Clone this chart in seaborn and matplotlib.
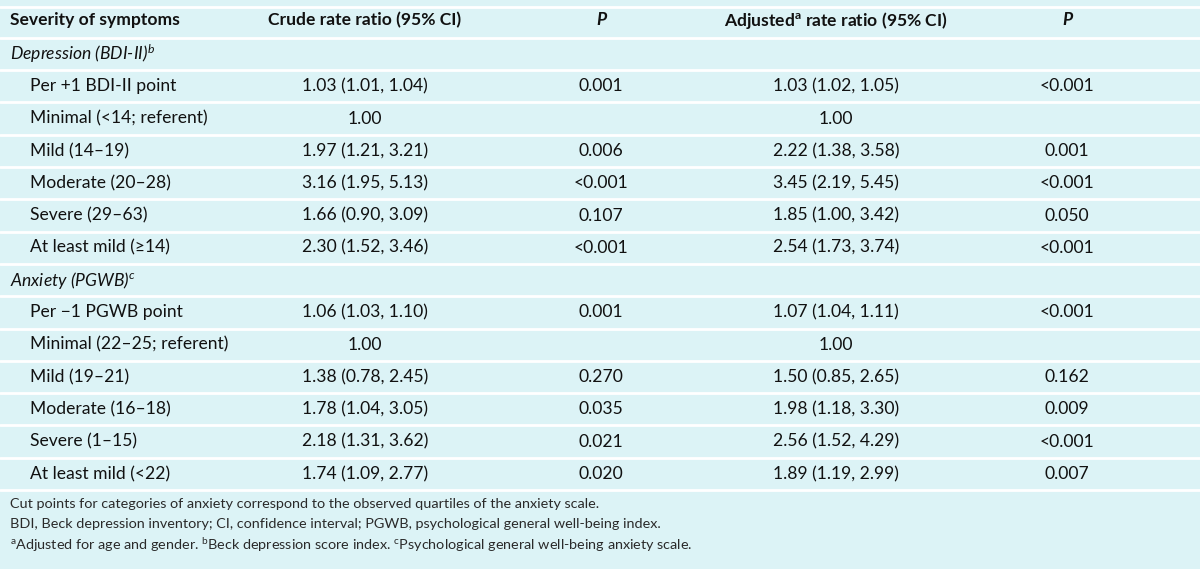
import matplotlib
matplotlib.use('Agg')

import matplotlib.pyplot as plt
import seaborn as sns

# -----------------------------
# TABLE DATA
# -----------------------------
headers = ["Severity of symptoms", "Crude rate ratio (95% CI)", "P",
           "Adjusted$^{\\mathbf{a}}$ rate ratio (95% CI)", "P"]

groups = ["Depression (BDI-II)$^{b}$", "Anxiety (PGWB)$^{c}$"]

dep_labels = ["Per +1 BDI-II point", "Minimal (<14; referent)", "Mild (14\u201319)",
              "Moderate (20\u201328)", "Severe (29\u201363)", "At least mild (\u226514)"]
dep_crude = ["1.03 (1.01, 1.04)", "1.00", "1.97 (1.21, 3.21)",
             "3.16 (1.95, 5.13)", "1.66 (0.90, 3.09)", "2.30 (1.52, 3.46)"]
dep_p_crude = ["0.001", "", "0.006", "<0.001", "0.107", "<0.001"]
dep_adj = ["1.03 (1.02, 1.05)", "1.00", "2.22 (1.38, 3.58)",
           "3.45 (2.19, 5.45)", "1.85 (1.00, 3.42)", "2.54 (1.73, 3.74)"]
dep_p_adj = ["<0.001", "", "0.001", "<0.001", "0.050", "<0.001"]

anx_labels = ["Per \u22121 PGWB point", "Minimal (22\u201325; referent)", "Mild (19\u201321)",
              "Moderate (16\u201318)", "Severe (1\u201315)", "At least mild (<22)"]
anx_crude = ["1.06 (1.03, 1.10)", "1.00", "1.38 (0.78, 2.45)",
             "1.78 (1.04, 3.05)", "2.18 (1.31, 3.62)", "1.74 (1.09, 2.77)"]
anx_p_crude = ["0.001", "", "0.270", "0.035", "0.021", "0.020"]
anx_adj = ["1.07 (1.04, 1.11)", "1.00", "1.50 (0.85, 2.65)",
           "1.98 (1.18, 3.30)", "2.56 (1.52, 4.29)", "1.89 (1.19, 2.99)"]
anx_p_adj = ["<0.001", "", "0.162", "0.009", "<0.001", "0.007"]

footnotes = [
    "Cut points for categories of anxiety correspond to the observed quartiles of the anxiety scale.",
    "BDI, Beck depression inventory; CI, confidence interval; PGWB, psychological general well-being index.",
    "$^{\\mathrm{a}}$Adjusted for age and gender. $^{\\mathrm{b}}$Beck depression score index. "
    "$^{\\mathrm{c}}$Psychological general well-being anxiety scale.",
]

# -----------------------------
# STYLE
# -----------------------------
sns.set_theme(style="white")
plt.rcParams['font.family'] = ['Lato', 'DejaVu Sans']
plt.rcParams['mathtext.fontset'] = 'custom'
plt.rcParams['mathtext.rm'] = 'Lato'
plt.rcParams['mathtext.it'] = 'Lato:italic'
plt.rcParams['mathtext.bf'] = 'Lato:bold'

bg = "#dcf3f6"
txt = "#111111"
fs = 12.6

fig = plt.figure(figsize=(12, 5.69), dpi=100, facecolor=bg)
ax = fig.add_axes([0, 0, 1, 1])
ax.set_facecolor(bg)
ax.set_xlim(0, 1200)
ax.set_ylim(569, 0)
ax.axis("off")

col_x = [10, 365, 601, 836, 1067]
indent = 30
header_y = 20
row_y0 = 54
step = 32.3

# top rule and header
ax.axhline(7, color="white", lw=2)
for i, h in enumerate(headers):
    ha = "left" if i == 0 else "center"
    style = "italic" if h == "P" else "normal"
    ax.text(col_x[i], header_y, h, ha=ha, va="center", fontsize=fs,
            fontweight="bold", style=style, color=txt)

rows = []
for g, labs, c, pc, a, pa in [
        (groups[0], dep_labels, dep_crude, dep_p_crude, dep_adj, dep_p_adj),
        (groups[1], anx_labels, anx_crude, anx_p_crude, anx_adj, anx_p_adj)]:
    rows.append((g, None))
    for k in range(len(labs)):
        rows.append((labs[k], [c[k], pc[k], a[k], pa[k]]))

ax.axhline(header_y + (row_y0 - header_y) / 2 + 1, color="white", lw=2)
for r, (label, vals) in enumerate(rows):
    y = row_y0 + r * step
    if vals is None:
        ax.text(col_x[0], y, label, ha="left", va="center", fontsize=fs,
                style="italic", color=txt)
    else:
        ax.text(col_x[0] + indent - 10, y, label, ha="left", va="center",
                fontsize=fs, color=txt)
        for j, v in enumerate(vals):
            ax.text(col_x[j + 1], y, v, ha="center", va="center",
                    fontsize=fs, color=txt)
    ax.axhline(y + step / 2, color="white", lw=2)

# footnotes
for k, f in enumerate(footnotes):
    ax.text(col_x[0], 504 + k * 20.5, f, ha="left", va="center",
            fontsize=10.4, color="#2a2a2a")

plt.savefig("out.png", dpi=100, facecolor=bg)
plt.close()
